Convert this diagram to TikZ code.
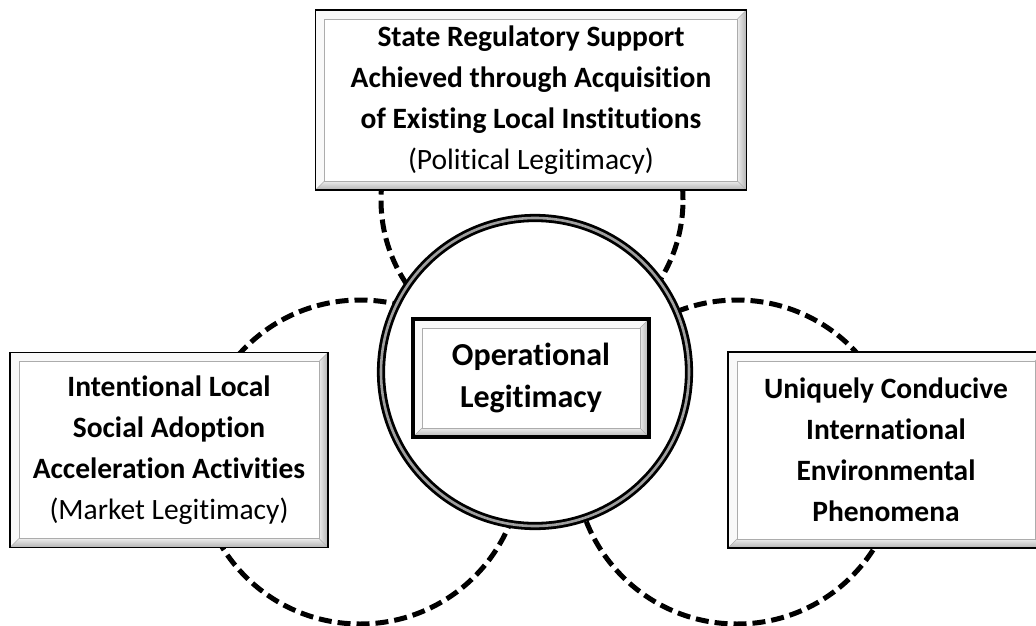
\documentclass[tikz,border=0pt]{standalone}
\usepackage{fontspec}
\setmainfont{Carlito}[Ligatures=NoCommon]
\usetikzlibrary{calc}

\tikzset{
  % framed box with a bevelled edge, light top/left, dark bottom/right
  bevelbox/.style={rectangle, draw=black, line width=1.8pt, fill=white, align=center, inner sep=0pt,
    font=\fontsize{29.5}{41}\selectfont,
    path picture={
      \path (path picture bounding box.north west) coordinate (o1)
            (path picture bounding box.south east) coordinate (o2);
      \path ([shift={(9pt,-9pt)}]o1) coordinate (i1)
            ([shift={(-9pt,9pt)}]o2) coordinate (i2);
      \fill[gray!5] (o1) -- (o1 -| o2) -- (i1 -| i2) -- (i1) -- (i1 |- i2) -- (o1 |- o2) -- cycle;
      \shade[top color=gray!15, bottom color=gray!60] (o1 |- o2) -- (o2) -- (i2) -- (i1 |- i2) -- cycle;
      \shade[left color=gray!15, right color=gray!60] (o1 -| o2) -- (o2) -- (i2) -- (i1 -| i2) -- cycle;
      \draw[gray!65, line width=0.6pt] (i1) rectangle (i2);
      \draw[gray!65, line width=0.6pt] (o1 -| o2) -- (i1 -| i2) (o1 |- o2) -- (i1 |- i2) (o2) -- (i2);
    }},
  dashring/.style={draw=black, line width=5pt, dash pattern=on 13pt off 6pt},
}

\begin{document}
\begin{tikzpicture}[x=1pt, y=-1pt]
  \useasboundingbox (0,0) rectangle (1036,626);

  % centres of the three dashed rings
  \coordinate (polc) at (532,200);
  \coordinate (mktc) at (360,462);
  \coordinate (envc) at (737,462);

  % dashed rings, drawn first so the boxes and the ring cover them
  \draw[dashring] (polc) circle[radius=151pt];
  \draw[dashring] (mktc) circle[radius=162pt];
  \draw[dashring] (envc) circle[radius=162pt];

  % central ring
  \node[circle, draw=black, fill=white, line width=2.8pt, double=gray!75, double distance=2.6pt,
        minimum size=308pt, inner sep=0pt] (ring) at (535,372) {};

  % boxes
  \node[bevelbox, minimum width=431pt, minimum height=180pt] (state) at (531,100)
    {\textbf{State Regulatory Support}\\ \textbf{Achieved through Acquisition}\\
     \textbf{of Existing Local Institutions}\\ (Political Legitimacy)};
  \node[bevelbox, minimum width=318pt, minimum height=195pt] (market) at (169,450)
    {\textbf{Intentional Local}\\ \textbf{Social Adoption}\\
     \textbf{Acceleration Activities}\\ (Market Legitimacy)};
  \node[bevelbox, minimum width=316pt, minimum height=196pt] (env) at (886,450)
    {\textbf{Uniquely Conducive}\\ \textbf{International}\\
     \textbf{Environmental}\\ \textbf{Phenomena}};
  \node[bevelbox, line width=3.5pt, minimum width=236pt, minimum height=118pt,
        font=\fontsize{32}{42}\selectfont\bfseries] (oper) at (531,378)
    {Operational\\ Legitimacy};
\end{tikzpicture}
\end{document}
